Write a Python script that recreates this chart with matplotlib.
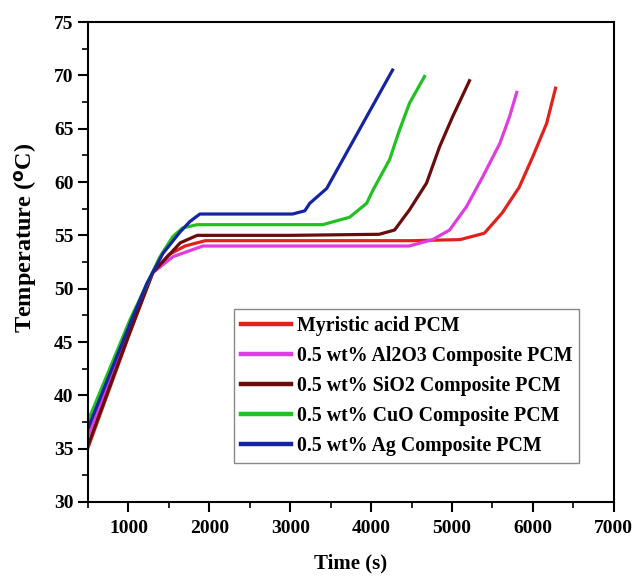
import numpy as np
import matplotlib.pyplot as plt
from matplotlib.ticker import MultipleLocator

plt.rcParams['font.family'] = ['Liberation Serif', 'DejaVu Serif']
plt.rcParams['font.weight'] = 'bold'
plt.rcParams['mathtext.default'] = 'regular'

labels = ["Myristic acid PCM",
          "0.5 wt% Al2O3 Composite PCM",
          "0.5 wt% SiO2 Composite PCM",
          "0.5 wt% CuO Composite PCM",
          "0.5 wt% Ag Composite PCM"]
colors = ["#e3211c", "#e03ce0", "#6a0c0c", "#22c122", "#1424a4"]

t_myr = [500, 1000, 1300, 1500, 1700, 1950, 2500, 3500, 4500, 5100, 5400, 5620, 5830, 6000, 6170, 6280]
T_myr = [35.1, 45.5, 51.5, 53.2, 54.0, 54.5, 54.5, 54.5, 54.5, 54.6, 55.2, 57.1, 59.5, 62.4, 65.5, 68.8]

t_al = [500, 1000, 1300, 1550, 1920, 3000, 4470, 4760, 4970, 5180, 5380, 5590, 5710, 5800]
T_al = [36.2, 45.8, 51.5, 53.0, 54.0, 54.0, 54.0, 54.6, 55.5, 57.7, 60.5, 63.6, 66.1, 68.4]

t_si = [500, 1000, 1300, 1640, 1850, 3000, 4100, 4290, 4475, 4685, 4846, 5006, 5216]
T_si = [35.3, 45.6, 51.5, 54.3, 55.0, 55.0, 55.1, 55.5, 57.4, 59.9, 63.3, 66.1, 69.5]

t_cu = [500, 1020, 1390, 1550, 1670, 1850, 3400, 3735, 3944, 4020, 4228, 4352, 4475, 4660]
T_cu = [37.6, 47.1, 53.0, 54.9, 55.7, 56.0, 56.0, 56.7, 58.0, 59.2, 62.1, 64.9, 67.4, 69.9]

t_ag = [500, 1056, 1228, 1426, 1636, 1760, 1883, 3030, 3180, 3241, 3451, 4265]
T_ag = [36.9, 47.4, 50.5, 53.3, 55.3, 56.3, 57.0, 57.0, 57.3, 58.0, 59.4, 70.5]

series = [(t_myr, T_myr), (t_al, T_al), (t_si, T_si), (t_cu, T_cu), (t_ag, T_ag)]

fig = plt.figure(figsize=(6.35, 5.8), dpi=100)
ax = fig.add_axes([0.1386, 0.1345, 0.828, 0.8275])

for (t, T), lab, c in zip(series, labels, colors):
    ax.plot(t, T, color=c, lw=2.3, label=lab)

ax.set_xlim(500, 7000)
ax.set_ylim(30, 75)
ax.xaxis.set_minor_locator(MultipleLocator(500))
ax.yaxis.set_major_locator(MultipleLocator(5))
ax.yaxis.set_minor_locator(MultipleLocator(2.5))
ax.set_xticks([1000, 2000, 3000, 4000, 5000, 6000, 7000])
ax.tick_params(which='major', direction='out', length=7, width=1.5, labelsize=14)
ax.tick_params(axis='x', which='major', pad=6)
ax.tick_params(which='minor', direction='out', length=4, width=1.2)
for s in ax.spines.values():
    s.set_linewidth(1.5)

ax.set_xlabel("Time (s)", fontsize=15, fontweight='bold', labelpad=12)
ax.set_ylabel("Temperature ($^\\mathbf{o}$C)", fontsize=17.5, fontweight='bold')
ax.yaxis.set_label_coords(-0.093, 0.55)

leg = ax.legend(loc='lower left', bbox_to_anchor=(0.278, 0.081), fontsize=14.3,
                handlelength=2.5, handletextpad=0.3, borderpad=0.35, labelspacing=0.5,
                borderaxespad=0, fancybox=False, framealpha=1, edgecolor='#888888')
leg.get_frame().set_linewidth(1.0)
for line in leg.get_lines():
    line.set_linewidth(3.2)

fig.savefig("out.png", dpi=100)
